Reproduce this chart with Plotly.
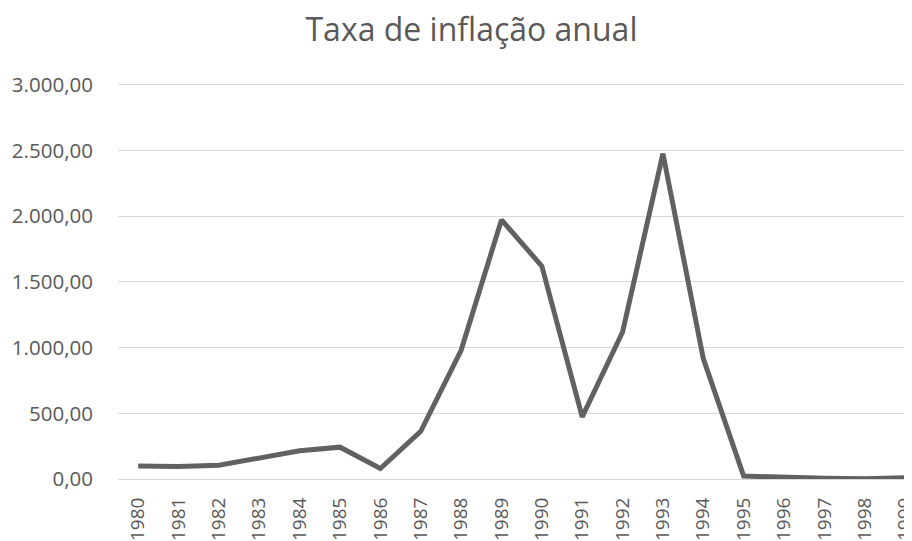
import plotly.graph_objects as go

years = [str(y) for y in range(1980, 2000)]
inflacao = [99.25, 95.62, 104.79, 164.01, 215.26, 242.23, 79.66, 363.41, 980.21, 1972.91,
            1620.97, 472.70, 1119.10, 2477.15, 916.46, 22.41, 9.56, 5.22, 1.65, 8.94]
y_ticks = [0, 500, 1000, 1500, 2000, 2500, 3000]

TXT = "#595959"
FONT = "Open Sans"

fig = go.Figure(go.Scatter(
    x=years, y=inflacao, mode="lines",
    line=dict(color="#616161", width=5),
    hoverinfo="x+y",
))

# the page body adds an 8px margin, so the figure is 8px smaller on each far side
fig.update_layout(
    width=904, height=533,
    paper_bgcolor="white", plot_bgcolor="white",
    margin=dict(l=110, r=0, t=74.5, b=61.7),
    separators=",.",
    showlegend=False,
    title=dict(text="Taxa de inflação anual", x=0.5127, xanchor="center",
               y=1 - 22 / 533, yanchor="middle",
               font=dict(family=FONT, size=32, color=TXT)),
    font=dict(family=FONT, color=TXT),
)
fig.update_xaxes(
    type="category", range=[-0.5, 19.17], automargin=False,
    tickangle=-90, tickfont=dict(family=FONT, size=19, color=TXT),
    showgrid=False, showline=False, zeroline=False,
    ticks="outside", ticklen=10, tickcolor="rgba(0,0,0,0)",
)
fig.update_yaxes(
    range=[0, 3015], automargin=False,
    tickvals=y_ticks, tickformat=",.2f",
    tickfont=dict(family=FONT, size=20.5, color=TXT),
    showgrid=True, gridcolor="#d9d9d9", gridwidth=1,
    zeroline=True, zerolinecolor="#d9d9d9", zerolinewidth=1,
    showline=False,
    ticks="outside", ticklen=20, tickcolor="rgba(0,0,0,0)",
)

fig.write_html("out.html")
